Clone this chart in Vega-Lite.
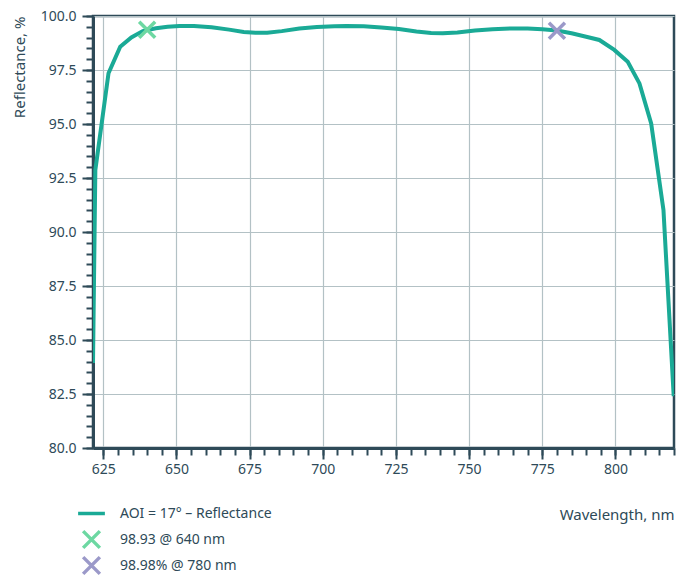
{
  "$schema": "https://vega.github.io/schema/vega-lite/v6.json",
  "width": 581,
  "height": 432,
  "autosize": "none",
  "padding": {"left": 93, "top": 16, "right": 10, "bottom": 133},
  "background": "white",
  "config": {
    "font": "Noto Sans",
    "view": {"stroke": "#2e4a58", "strokeWidth": 2.5},
    "axis": {
      "domainColor": "#2e4a58",
      "domainWidth": 3,
      "tickColor": "#2e4a58",
      "tickWidth": 2,
      "gridColor": "#b3c1c5",
      "gridWidth": 1.2,
      "labelColor": "#2e4a58",
      "labelFontSize": 14,
      "titleColor": "#2e4a58",
      "titleFontSize": 15,
      "titleFontWeight": "normal"
    }
  },
  "datasets": {
    "curve": [
      {"wl": 621.5, "r": 83.94, "series": "AOI = 17° – Reflectance"},
      {"wl": 622.3, "r": 92.87, "series": "AOI = 17° – Reflectance"},
      {"wl": 626.8, "r": 97.35, "series": "AOI = 17° – Reflectance"},
      {"wl": 630.8, "r": 98.58, "series": "AOI = 17° – Reflectance"},
      {"wl": 634.6, "r": 99.01, "series": "AOI = 17° – Reflectance"},
      {"wl": 638.5, "r": 99.3, "series": "AOI = 17° – Reflectance"},
      {"wl": 643, "r": 99.43, "series": "AOI = 17° – Reflectance"},
      {"wl": 647, "r": 99.5, "series": "AOI = 17° – Reflectance"},
      {"wl": 651, "r": 99.54, "series": "AOI = 17° – Reflectance"},
      {"wl": 656, "r": 99.54, "series": "AOI = 17° – Reflectance"},
      {"wl": 662, "r": 99.48, "series": "AOI = 17° – Reflectance"},
      {"wl": 668, "r": 99.37, "series": "AOI = 17° – Reflectance"},
      {"wl": 673, "r": 99.26, "series": "AOI = 17° – Reflectance"},
      {"wl": 677, "r": 99.22, "series": "AOI = 17° – Reflectance"},
      {"wl": 681, "r": 99.23, "series": "AOI = 17° – Reflectance"},
      {"wl": 686, "r": 99.3, "series": "AOI = 17° – Reflectance"},
      {"wl": 692, "r": 99.42, "series": "AOI = 17° – Reflectance"},
      {"wl": 698, "r": 99.49, "series": "AOI = 17° – Reflectance"},
      {"wl": 704, "r": 99.53, "series": "AOI = 17° – Reflectance"},
      {"wl": 708, "r": 99.54, "series": "AOI = 17° – Reflectance"},
      {"wl": 714, "r": 99.52, "series": "AOI = 17° – Reflectance"},
      {"wl": 720, "r": 99.47, "series": "AOI = 17° – Reflectance"},
      {"wl": 726, "r": 99.4, "series": "AOI = 17° – Reflectance"},
      {"wl": 732, "r": 99.28, "series": "AOI = 17° – Reflectance"},
      {"wl": 737, "r": 99.21, "series": "AOI = 17° – Reflectance"},
      {"wl": 741, "r": 99.2, "series": "AOI = 17° – Reflectance"},
      {"wl": 746, "r": 99.24, "series": "AOI = 17° – Reflectance"},
      {"wl": 752, "r": 99.33, "series": "AOI = 17° – Reflectance"},
      {"wl": 758, "r": 99.39, "series": "AOI = 17° – Reflectance"},
      {"wl": 764, "r": 99.42, "series": "AOI = 17° – Reflectance"},
      {"wl": 770, "r": 99.42, "series": "AOI = 17° – Reflectance"},
      {"wl": 775, "r": 99.39, "series": "AOI = 17° – Reflectance"},
      {"wl": 780, "r": 99.33, "series": "AOI = 17° – Reflectance"},
      {"wl": 785, "r": 99.2, "series": "AOI = 17° – Reflectance"},
      {"wl": 790, "r": 99.04, "series": "AOI = 17° – Reflectance"},
      {"wl": 794.5, "r": 98.89, "series": "AOI = 17° – Reflectance"},
      {"wl": 799.6, "r": 98.43, "series": "AOI = 17° – Reflectance"},
      {"wl": 804.2, "r": 97.88, "series": "AOI = 17° – Reflectance"},
      {"wl": 808.2, "r": 96.88, "series": "AOI = 17° – Reflectance"},
      {"wl": 812.2, "r": 95.03, "series": "AOI = 17° – Reflectance"},
      {"wl": 816.4, "r": 91.02, "series": "AOI = 17° – Reflectance"},
      {"wl": 819.9, "r": 82.4, "series": "AOI = 17° – Reflectance"}
    ],
    "markers": [
      {"wl": 640, "r": 99.36, "series": "98.93 @ 640 nm"},
      {"wl": 780, "r": 99.32, "series": "98.98% @ 780 nm"}
    ]
  },
  "layer": [
    {
      "data": {"name": "curve"},
      "mark": {"type": "line", "strokeWidth": 4, "clip": true},
      "encoding": {
        "x": {
          "field": "wl", "type": "quantitative",
          "scale": {"domain": [621.5, 820], "nice": false, "zero": false},
          "axis": {
            "orient": "bottom",
            "values": [625, 650, 675, 700, 725, 750, 775, 800],
            "tickSize": 11, "labelPadding": 3, "grid": true,
            "title": "Wavelength, nm", "titleAnchor": "end", "titlePadding": 31
          }
        },
        "y": {
          "field": "r", "type": "quantitative",
          "scale": {"domain": [80, 100], "nice": false, "zero": false},
          "axis": {
            "orient": "left",
            "values": [80, 82.5, 85, 87.5, 90, 92.5, 95, 97.5, 100],
            "format": ".1f",
            "tickSize": 11, "labelPadding": 6, "grid": true,
            "title": "Reflectance, %", "titleAnchor": "end", "titlePadding": 13
          }
        },
        "color": {
          "field": "series", "type": "nominal",
          "scale": {
            "domain": ["AOI = 17° – Reflectance", "98.93 @ 640 nm", "98.98% @ 780 nm"],
            "range": ["#1aaa96", "#6dd8a2", "#9b99c9"]
          },
          "legend": {
            "orient": "none", "legendX": -12, "legendY": 487, "title": null,
            "padding": 0, "symbolSize": 280, "symbolStrokeWidth": 3.5,
            "labelFontSize": 14, "labelColor": "#2e4a58", "rowPadding": -5,
            "labelOffset": 18, "symbolFillColor": "transparent"
          }
        }
      }
    },
    {
      "data": {"name": "markers"},
      "mark": {"type": "point", "filled": false, "strokeWidth": 3.5, "size": 256, "opacity": 1},
      "encoding": {
        "x": {
          "field": "wl", "type": "quantitative",
          "axis": {
            "orient": "bottom",
            "values": [625, 630, 635, 640, 645, 650, 655, 660, 665, 670, 675, 680, 685, 690, 695, 700, 705, 710, 715, 720, 725, 730, 735, 740, 745, 750, 755, 760, 765, 770, 775, 780, 785, 790, 795, 800, 805, 810, 815, 820],
            "labels": false, "tickSize": 7, "grid": false, "domain": false, "title": null
          }
        },
        "y": {
          "field": "r", "type": "quantitative",
          "axis": {
            "orient": "left",
            "values": [80, 80.5, 81, 81.5, 82, 82.5, 83, 83.5, 84, 84.5, 85, 85.5, 86, 86.5, 87, 87.5, 88, 88.5, 89, 89.5, 90, 90.5, 91, 91.5, 92, 92.5, 93, 93.5, 94, 94.5, 95, 95.5, 96, 96.5, 97, 97.5, 98, 98.5, 99, 99.5, 100],
            "labels": false, "tickSize": 7, "grid": false, "domain": false, "title": null
          }
        },
        "color": {
          "field": "series", "type": "nominal",
          "legend": {
            "orient": "none", "legendX": -12, "legendY": 487, "title": null,
            "padding": 0, "symbolSize": 280, "symbolStrokeWidth": 3.5,
            "labelFontSize": 14, "labelColor": "#2e4a58", "rowPadding": -5,
            "labelOffset": 18, "symbolFillColor": "transparent"
          }
        },
        "shape": {
          "field": "series", "type": "nominal",
          "scale": {
            "domain": ["AOI = 17° – Reflectance", "98.93 @ 640 nm", "98.98% @ 780 nm"],
            "range": ["M-1.6,0H1.6M0,-1M0,1", "M-1,-1L1,1M1,-1L-1,1", "M-1,-1L1,1M1,-1L-1,1"]
          },
          "legend": {
            "orient": "none", "legendX": -12, "legendY": 487, "title": null,
            "padding": 0, "symbolSize": 280, "symbolStrokeWidth": 3.5,
            "labelFontSize": 14, "labelColor": "#2e4a58", "rowPadding": -5,
            "labelOffset": 18, "symbolFillColor": "transparent"
          }
        }
      }
    }
  ],
  "resolve": {"axis": {"x": "independent", "y": "independent"}}
}
